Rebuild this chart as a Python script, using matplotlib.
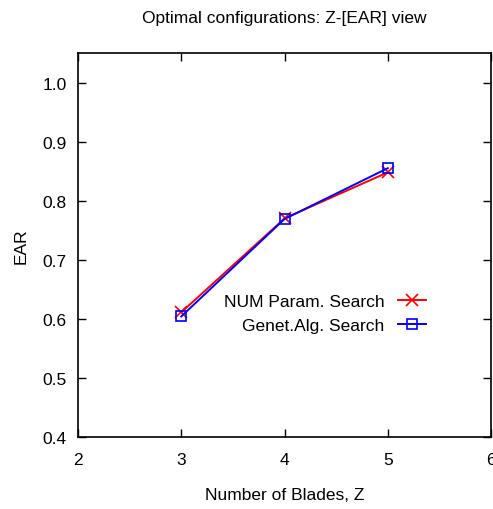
import matplotlib
matplotlib.use("Agg")
import matplotlib.pyplot as plt

blades = [3, 4, 5]
num_search = [0.611, 0.770, 0.848]
ga_search = [0.604, 0.769, 0.855]
labels = ["NUM Param. Search", "Genet.Alg. Search"]

plt.rcParams['font.family'] = ['Liberation Sans', 'DejaVu Sans']
fs = 12.5
fig = plt.figure(figsize=(4.93, 5.10), dpi=100)
ax = fig.add_axes([78/493, 72/510, 413/493, 384/510])

ax.plot(blades, num_search, color='#ff0000', marker='x', markersize=9, mew=1.2,
        lw=1.4, label=labels[0])
ax.plot(blades, ga_search, color='#0000ff', marker='s', markersize=7, mew=1.2,
        mfc='none', lw=1.4, label=labels[1])

ax.set_xlim(2, 6)
ax.set_ylim(0.4, 1.05)
ax.set_xticks([2, 3, 4, 5, 6])
ax.set_yticks([0.4, 0.5, 0.6, 0.7, 0.8, 0.9, 1.0])
ax.set_yticklabels(["0.4", "0.5", "0.6", "0.7", "0.8", "0.9", "1.0"])
ax.tick_params(direction='in', top=True, right=True, length=6, width=1,
               labelsize=fs)
ax.tick_params(axis='x', pad=11)
ax.tick_params(axis='y', pad=8)
for s in ax.spines.values():
    s.set_linewidth(1.2)

ax.set_xlabel("Number of Blades, Z", fontsize=fs, labelpad=14)
ax.set_ylabel("EAR", fontsize=fs, labelpad=10)
ax.set_title("Optimal configurations: Z-[EAR] view", fontsize=fs, pad=22)

leg = ax.legend(loc='center right', bbox_to_anchor=(0.86, 0.322), frameon=False,
                markerfirst=False, fontsize=fs, handlelength=1.6,
                handletextpad=0.8, labelspacing=0.55, borderaxespad=0)
for t in leg.get_texts():
    t.set_ha('right')

fig.savefig("out.png", dpi=100)
